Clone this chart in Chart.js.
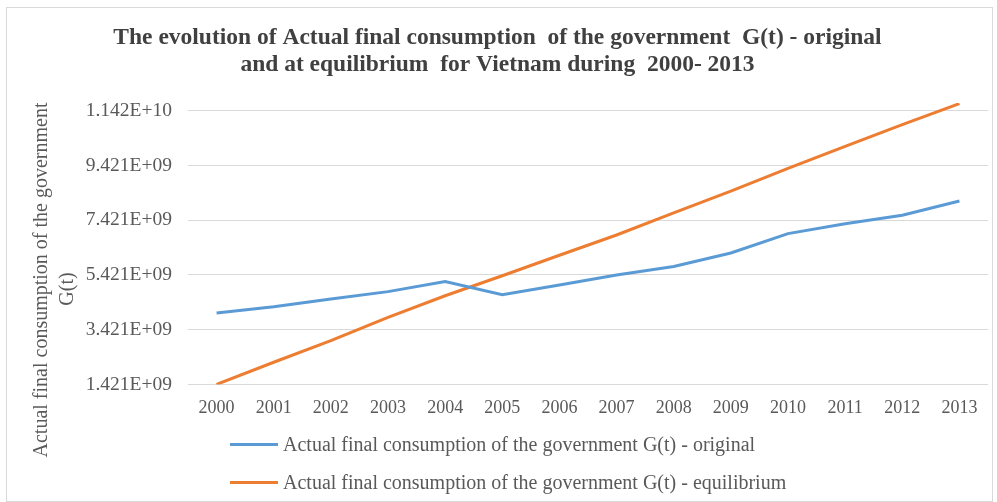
<!DOCTYPE html>
<html lang="en">
<head>
  <meta charset="UTF-8" />
  <title>G(t) original vs equilibrium - Vietnam</title>
  <script src="https://cdn.jsdelivr.net/npm/chart.js@4.4.1/dist/chart.umd.min.js"></script>
  <style>
    *{margin:0;padding:0;box-sizing:border-box}
    body{width:997px;height:502px;background:#fff;overflow:hidden;position:relative;font-family:'Liberation Serif','Times New Roman',serif}
    .frame{position:absolute;left:6px;top:7px;width:987px;height:495px;border:1px solid #d9d9d9;background:#fff}
    .frame canvas{display:block}
    .legend{position:absolute;left:230px;top:432px}
    .legend .row{display:flex;align-items:center;height:24px;margin-bottom:14px;font-size:20px;color:#595959;white-space:nowrap}
    .legend .swatch{width:48px;height:3px;margin-right:5px}
  </style>
</head>
<body>
  <div class="frame"><canvas id="chart" width="985" height="493"></canvas></div>
  <div class="legend" id="legend"></div>
  <script>
    // data
    const years = ['2000','2001','2002','2003','2004','2005','2006','2007','2008','2009','2010','2011','2012','2013'];
    const original = [4.03e9, 4.26e9, 4.54e9, 4.81e9, 5.18e9, 4.70e9, 5.05e9, 5.42e9, 5.73e9, 6.22e9, 6.93e9, 7.29e9, 7.60e9, 8.12e9];
    const equilibrium = [1.421e9, 2.23e9, 3.02e9, 3.87e9, 4.66e9, 5.39e9, 6.14e9, 6.88e9, 7.69e9, 8.48e9, 9.31e9, 10.12e9, 10.91e9, 11.68e9];
    const yTicks = [1.421e9, 3.421e9, 5.421e9, 7.421e9, 9.421e9, 11.421e9];
    const titleLines = ['The evolution of Actual final consumption  of the government  G(t) - original', 'and at equilibrium  for Vietnam during  2000- 2013'];
    const yTitleLines = ['Actual final consumption of the government', 'G(t)'];
    const seriesNames = ['Actual final consumption of the government G(t) - original', 'Actual final consumption of the government G(t) - equilibrium'];

    const serif = "'Liberation Serif','Times New Roman',serif";
    const fmt = v => v.toExponential(3).toUpperCase().replace(/E\+(\d)$/, 'E+0$1');

    // rotated y axis title, two lines like the original
    const yTitle = {
      id: 'yTitle',
      afterDraw(chart) {
        const ctx = chart.ctx;
        ctx.save();
        ctx.font = '20px ' + serif;
        ctx.fillStyle = '#595959';
        ctx.textAlign = 'center';
        ctx.textBaseline = 'middle';
        [[35, 272], [61, 281]].forEach((p, i) => {
          ctx.save();
          ctx.translate(p[0], p[1]);
          ctx.rotate(-Math.PI / 2);
          ctx.fillText(yTitleLines[i], 0, 0);
          ctx.restore();
        });
        ctx.restore();
      }
    };

    const chart = new Chart(document.getElementById('chart'), {
      type: 'line',
      data: {
        labels: years,
        datasets: [
          {label: seriesNames[0], data: original, borderColor: '#5b9bd5', backgroundColor: '#5b9bd5', borderWidth: 3, pointRadius: 0, tension: 0},
          {label: seriesNames[1], data: equilibrium, borderColor: '#ed7d31', backgroundColor: '#ed7d31', borderWidth: 3, pointRadius: 0, tension: 0}
        ]
      },
      options: {
        responsive: false,
        animation: false,
        layout: {padding: {left: 0, right: 4, top: 0, bottom: 77}},
        plugins: {
          legend: {display: false},
          tooltip: {enabled: false},
          title: {display: true, text: titleLines, color: '#404040', font: {family: serif, size: 23.5, weight: 'bold', lineHeight: 1.15}, padding: {top: 16, bottom: 25}}
        },
        scales: {
          x: {
            offset: true,
            grid: {display: false},
            border: {display: false},
            ticks: {color: '#595959', font: {family: serif, size: 18}, padding: 5, maxRotation: 0, autoSkip: false}
          },
          y: {
            min: 1.421e9,
            max: 11.7e9,
            afterBuildTicks: s => { s.ticks = yTicks.map(v => ({value: v})); },
            afterFit: s => { s.width = 181; },
            grid: {color: '#d9d9d9', lineWidth: 1, drawTicks: false},
            border: {display: false},
            ticks: {color: '#595959', font: {family: serif, size: 19.5}, padding: 16, callback: v => fmt(v)}
          }
        }
      },
      plugins: [yTitle]
    });

    // legend stacked in two rows under the axis, built from the datasets
    const legend = document.getElementById('legend');
    chart.data.datasets.forEach(ds => {
      const row = document.createElement('div');
      row.className = 'row';
      row.innerHTML = '<span class="swatch" style="background:' + ds.borderColor + '"></span>' + ds.label;
      legend.appendChild(row);
    });
  </script>
</body>
</html>
